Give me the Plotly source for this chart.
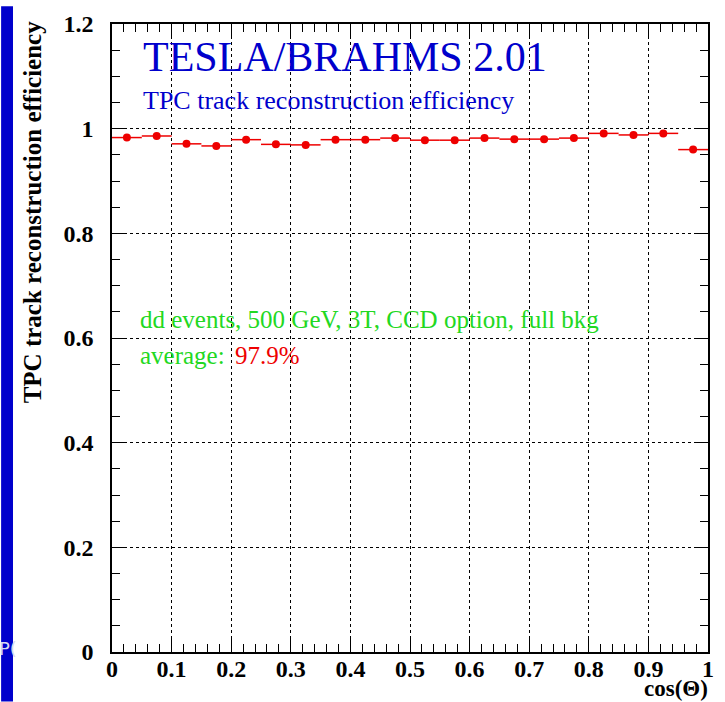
import plotly.graph_objects as go

# ---- data ----
cos_theta = [0.025, 0.075, 0.125, 0.175, 0.225, 0.275, 0.325, 0.375, 0.425, 0.475,
             0.525, 0.575, 0.625, 0.675, 0.725, 0.775, 0.825, 0.875, 0.925, 0.975]
efficiency = [0.983, 0.986, 0.971, 0.967, 0.979, 0.970, 0.969, 0.979, 0.979, 0.982,
              0.978, 0.978, 0.982, 0.980, 0.980, 0.982, 0.991, 0.988, 0.991, 0.960]
bin_halfwidth = [0.025] * 20
x_ticks = [0, 0.1, 0.2, 0.3, 0.4, 0.5, 0.6, 0.7, 0.8, 0.9, 1]
y_ticks = [0, 0.2, 0.4, 0.6, 0.8, 1, 1.2]

SERIF = "Liberation Serif, Times New Roman, serif"
RED = "#ee0000"
BLUE = "#0000cc"
GREEN = "#22d822"

fig = go.Figure()
fig.add_trace(go.Scatter(
    x=cos_theta, y=efficiency, mode="markers",
    marker=dict(symbol="circle", size=8, color=RED),
    error_x=dict(type="data", array=bin_halfwidth, color=RED, thickness=1.5, width=0),
    showlegend=False,
))

axis_common = dict(
    showline=True, linecolor="black", linewidth=1.5, mirror="ticks",
    ticks="inside", ticklen=14, tickwidth=1, tickcolor="black",
    showgrid=True, gridcolor="black", gridwidth=1, griddash="dot",
    zeroline=False,
    tickfont=dict(family=SERIF, size=24, color="black", weight="bold"),
)

fig.update_xaxes(range=[0, 1], tickvals=x_ticks,
                 minor=dict(dtick=0.02, ticks="inside", ticklen=8, tickcolor="black", showgrid=False),
                 ticklabelstandoff=-6, **axis_common)
fig.update_yaxes(range=[0, 1.2], tickvals=y_ticks,
                 minor=dict(dtick=0.05, ticks="inside", ticklen=8, tickcolor="black", showgrid=False),
                 ticklabelstandoff=12, **axis_common)

L, R, T, B = 112, 11, 18, 50
W, H = 725, 702
pw, ph = W - L - R, H - T - B

fig.add_shape(type="rect", xref="paper", yref="paper",
              x0=-L / pw, x1=(12 - L) / pw, y0=-B / ph, y1=1 + T / ph,
              fillcolor=BLUE, line=dict(width=0), layer="below")

ann = [
    dict(x=0.048, y=1.137, xref="x", yref="y", text="TESLA/BRAHMS 2.01",
         font=dict(family=SERIF, size=42, color=BLUE), xanchor="left", yanchor="middle"),
    dict(x=0.048, y=1.053, xref="x", yref="y", text="TPC track reconstruction efficiency",
         font=dict(family=SERIF, size=26, color=BLUE), xanchor="left", yanchor="middle"),
    dict(x=0.043, y=0.635, xref="x", yref="y", text="dd events, 500 GeV, 3T, CCD option, full bkg",
         font=dict(family=SERIF, size=25, color=GREEN), xanchor="left", yanchor="middle"),
    dict(x=0.043, y=0.566, xref="x", yref="y", text="average:",
         font=dict(family=SERIF, size=25, color=GREEN), xanchor="left", yanchor="middle"),
    dict(x=0.203, y=0.566, xref="x", yref="y", text="97.9%",
         font=dict(family=SERIF, size=25, color=RED), xanchor="left", yanchor="middle"),
    dict(x=(32 - L) / pw, y=1 + 6 / ph, xref="paper", yref="paper",
         text="TPC track reconstruction efficiency", textangle=-90,
         font=dict(family=SERIF, size=25, color="black", weight="bold"),
         xanchor="center", yanchor="top"),
    dict(x=1.003, y=(652 - 689) / ph, xref="paper", yref="paper", text="cos(\u0398)",
         font=dict(family=SERIF, size=23, color="black", weight="bold"),
         xanchor="right", yanchor="middle"),
    dict(x=(-4 - L) / pw, y=(652 - 648) / ph, xref="paper", yref="paper", text="P(",
         font=dict(family="DejaVu Sans, sans-serif", size=18, color="#d8d8f0"),
         xanchor="left", yanchor="middle"),
]
for a in ann:
    a["showarrow"] = False
    fig.add_annotation(**a)

fig.update_layout(
    width=W, height=H,
    margin=dict(l=L, r=R, t=T, b=B),
    paper_bgcolor="white", plot_bgcolor="white",
)

fig.write_html("out.html")
